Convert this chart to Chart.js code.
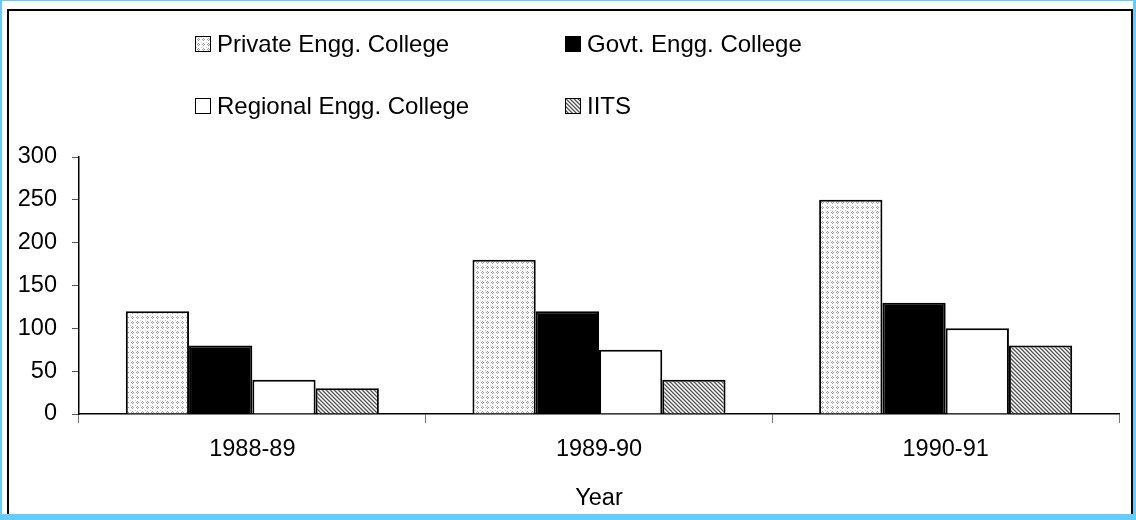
<!DOCTYPE html>
<html>
<head>
<meta charset="utf-8">
<script src="https://cdn.jsdelivr.net/npm/chart.js@4"></script>
<style>
    body { margin: 0; background: #66ccff; width: 1136px; height: 520px; overflow: hidden; font-family: "Liberation Sans", Arial, sans-serif; }
    #frame { position: absolute; left: 2px; top: 1px; width: 1131px; height: 513px; background: #fff; overflow: hidden; }
    #box { position: absolute; left: 5px; top: 8px; width: 1122px; height: 600px; border: 2px solid #000; }
    #chart { position: absolute; left: 0; top: 0; }
    .item { position: absolute; height: 28px; display: flex; align-items: center; font-size: 24px; color: #000; white-space: nowrap; }
    .swatch { width: 14px; height: 14px; border: 1.5px solid #000; margin-right: 6px; }
</style>
</head>
<body>
<div id="frame"><div id="box"></div></div>
<canvas id="chart" width="1136" height="520"></canvas>
<div id="legend"></div>
<script>
const categories = ['1988-89', '1989-90', '1990-91'];
const seriesNames = ['Private Engg. College', 'Govt. Engg. College', 'Regional Engg. College', 'IITS'];
const privateVals = [120, 180, 250];
const govtVals = [80, 120, 130];
const regionalVals = [40, 75, 100];
const iitsVals = [30, 40, 80];
const yTicks = [0, 50, 100, 150, 200, 250, 300];
const axisTitle = 'Year';

// небольшие плитки-узоры для заливки столбиков
function makeTile(size, paint) {
    const c = document.createElement('canvas');
    c.width = size;
    c.height = size;
    const g = c.getContext('2d');
    g.fillStyle = '#fff';
    g.fillRect(0, 0, size, size);
    paint(g);
    return c;
}

const dotTile = makeTile(5, g => {
    g.fillStyle = '#9a9a9a';
    [[2, 1], [1, 2], [3, 2], [2, 3]].forEach(([x, y]) => g.fillRect(x, y, 1, 1));
    g.fillStyle = '#d0d0d0';
    g.fillRect(0, 0, 1, 1);
});

const hatchTile = makeTile(4, g => {
    for (let x = 0; x < 4; x++) {
        for (let y = 0; y < 4; y++) {
            const d = ((x - y) % 4 + 4) % 4;
            if (d === 0) { g.fillStyle = '#555'; g.fillRect(x, y, 1, 1); }
            else if (d === 1) { g.fillStyle = '#999'; g.fillRect(x, y, 1, 1); }
            else if (d === 3) { g.fillStyle = '#c8c8c8'; g.fillRect(x, y, 1, 1); }
        }
    }
});

const ctx = document.getElementById('chart').getContext('2d');
const fills = [
    ctx.createPattern(dotTile, 'repeat'),
    '#000',
    '#fff',
    ctx.createPattern(hatchTile, 'repeat')
];
const swatchBg = [
    `url(${dotTile.toDataURL()})`,
    '#000',
    '#fff',
    `url(${hatchTile.toDataURL()})`
];
const values = [privateVals, govtVals, regionalVals, iitsVals];

// легенда 2x2 как в оригинале
const legendPos = [[195, 30], [565, 30], [195, 92], [565, 92]];
const legend = document.getElementById('legend');
seriesNames.forEach((name, i) => {
    const item = document.createElement('div');
    item.className = 'item';
    item.style.left = legendPos[i][0] + 'px';
    item.style.top = legendPos[i][1] + 'px';
    item.innerHTML = `<span class="swatch" style="background:${swatchBg[i]}"></span><span>${name}</span>`;
    legend.appendChild(item);
});

const tickFont = { family: '"Liberation Sans", Arial, sans-serif', size: 23.5 };

new Chart(ctx, {
    type: 'bar',
    data: {
        labels: categories,
        datasets: seriesNames.map((name, i) => ({
            label: name,
            data: values[i],
            backgroundColor: fills[i],
            borderColor: '#000',
            borderWidth: 2,
            categoryPercentage: 0.73,
            barPercentage: 1.0
        }))
    },
    options: {
        responsive: false,
        animation: false,
        devicePixelRatio: 1,
        layout: { padding: { left: 0, top: 157, right: 17, bottom: 6 } },
        plugins: {
            legend: { display: false },
            tooltip: { enabled: false }
        },
        scales: {
            x: {
                grid: { display: true, drawOnChartArea: false, drawTicks: true, tickLength: 9, color: '#777' },
                border: { color: '#000', width: 1.5 },
                ticks: { color: '#000', font: tickFont, padding: 12, maxRotation: 0 },
                title: { display: true, text: axisTitle, color: '#000', font: tickFont, padding: { top: 0, bottom: 1 } },
                afterFit(scale) { scale.height = 100; }
            },
            y: {
                min: yTicks[0],
                max: yTicks[yTicks.length - 1],
                grid: { display: true, drawOnChartArea: false, drawTicks: true, tickLength: 7, color: '#555' },
                border: { color: '#000', width: 1.5 },
                ticks: { color: '#000', font: tickFont, padding: 15, stepSize: yTicks[1] - yTicks[0] },
                afterFit(scale) { scale.width = 79; }
            }
        }
    }
});
</script>
</body>
</html>
